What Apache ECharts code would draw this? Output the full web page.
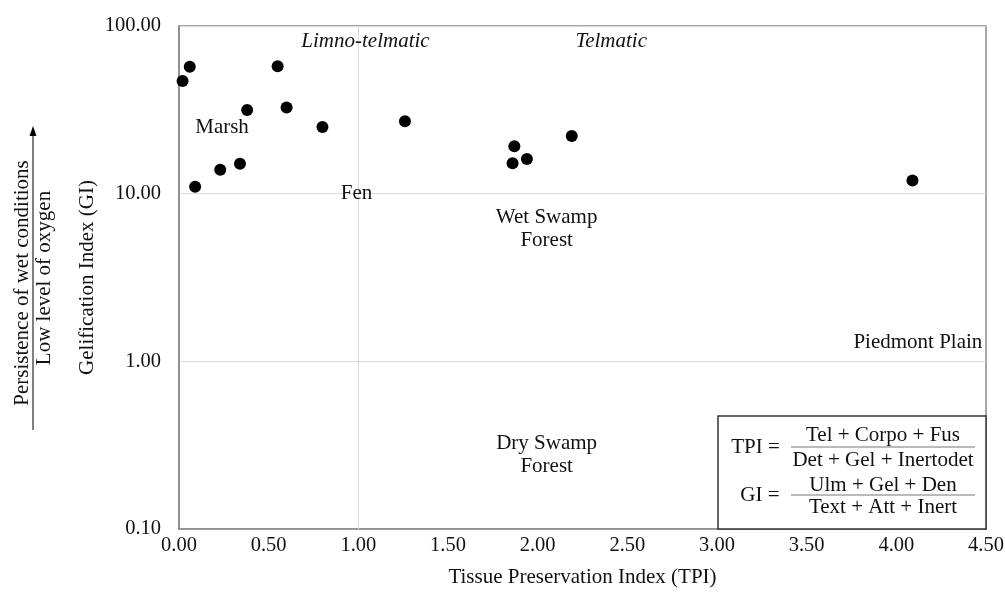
<!DOCTYPE html>
<html>
<head>
<meta charset="utf-8">
<script src="https://cdn.jsdelivr.net/npm/echarts@6/dist/echarts.min.js"></script>
<style>
  html, body { margin: 0; padding: 0; background: #fff; }
  #chart { width: 1005px; height: 592px; }
</style>
</head>
<body>
<div id="chart"></div>
<script>
// Tissue Preservation Index (TPI) vs Gelification Index (GI) per sample
const tpiValues = [0.02, 0.06, 0.55, 0.38, 0.60, 0.80, 1.26, 0.23, 0.34, 0.09, 2.19, 1.87, 1.94, 1.86, 4.09];
const giValues  = [47.0, 57.2, 57.6, 31.6, 32.6, 25.0, 27.0, 13.9, 15.1, 11.0, 22.1, 19.2, 16.1, 15.2, 12.0];

// Axis ticks
const xTicks = [0, 0.5, 1, 1.5, 2, 2.5, 3, 3.5, 4, 4.5];
const yTicks = [0.1, 1, 10, 100];

// Facies field names, anchored in data space (TPI, GI)
const zoneNames  = ['Limno-telmatic', 'Telmatic', 'Marsh', 'Fen', 'Wet Swamp\nForest', 'Dry Swamp\nForest', 'Piedmont Plain'];
const zoneTpi    = [1.04, 2.41, 0.24, 0.99, 2.05, 2.05, 4.12];
const zoneGi     = [81.4, 81.4, 24.7, 10.0, 6.16, 0.277, 1.29];
const zoneItalic = [true, true, false, false, false, false, false];

const FONT = '"Liberation Serif", "DejaVu Serif", serif';
const TXT = '#111';
const FS = 21;

const chart = echarts.init(document.getElementById('chart'), null, { renderer: 'canvas' });

const points = tpiValues.map((t, i) => [t, giValues[i]]);
const zones = zoneNames.map((n, i) => ({
  value: [zoneTpi[i], zoneGi[i]],
  label: { formatter: n, fontStyle: zoneItalic[i] ? 'italic' : 'normal' }
}));

chart.setOption({
  animation: false,
  backgroundColor: '#fff',
  textStyle: { fontFamily: FONT },
  grid: {
    left: 179, right: 19, top: 26, bottom: 63,
    containLabel: false, outerBoundsMode: 'none',
    show: true, borderColor: '#8a8a8a', borderWidth: 1.5
  },
  xAxis: {
    type: 'value',
    min: xTicks[0], max: xTicks[xTicks.length - 1], interval: 0.5,
    name: 'Tissue Preservation Index (TPI)',
    nameLocation: 'middle', nameGap: 38, nameMoveOverlap: false,
    nameTextStyle: { fontFamily: FONT, fontSize: FS, color: TXT },
    axisLine: { show: true, lineStyle: { color: '#8a8a8a', width: 1.5 } },
    axisTick: { show: false },
    splitLine: { show: false },
    axisLabel: {
      fontFamily: FONT, fontSize: 20.5, color: TXT, margin: 6,
      formatter: v => v.toFixed(2)
    }
  },
  yAxis: {
    type: 'log', logBase: 10,
    min: yTicks[0], max: yTicks[yTicks.length - 1],
    name: 'Gelification Index (GI)',
    nameLocation: 'middle', nameGap: 81, nameMoveOverlap: false,
    nameTextStyle: { fontFamily: FONT, fontSize: FS, color: TXT },
    axisLine: { show: true, lineStyle: { color: '#8a8a8a', width: 1.5 } },
    axisTick: { show: false },
    splitLine: { show: true, lineStyle: { color: '#d9d9d9', width: 1 } },
    axisLabel: {
      fontFamily: FONT, fontSize: 20.5, color: TXT, margin: 18,
      formatter: v => v.toFixed(2)
    }
  },
  series: [
    {
      type: 'scatter',
      data: points,
      symbol: 'circle',
      symbolSize: 12,
      itemStyle: { color: '#000', opacity: 1 },
      z: 5,
      markLine: {
        silent: true,
        symbol: ['none', 'none'],
        label: { show: false },
        lineStyle: { color: '#d9d9d9', width: 1, type: 'solid' },
        data: [{ xAxis: 1 }],
        z: 1
      }
    },
    {
      type: 'scatter',
      data: zones,
      symbolSize: 0,
      silent: true,
      z: 4,
      itemStyle: { opacity: 1 },
      label: {
        show: true, position: 'inside', opacity: 1,
        fontFamily: FONT, fontSize: FS, color: TXT,
        lineHeight: 23, align: 'center', verticalAlign: 'middle'
      }
    }
  ],
  graphic: [
    // Side annotation with upward arrow
    {
      type: 'text', x: 22, y: 283, rotation: Math.PI / 2,
      style: { text: 'Persistence of wet conditions', font: FS + 'px ' + FONT, fill: TXT, align: 'center', verticalAlign: 'middle' }
    },
    {
      type: 'text', x: 44, y: 278, rotation: Math.PI / 2,
      style: { text: 'Low level of oxygen', font: FS + 'px ' + FONT, fill: TXT, align: 'center', verticalAlign: 'middle' }
    },
    {
      type: 'line', shape: { x1: 33, y1: 430, x2: 33, y2: 134 },
      style: { stroke: '#000', lineWidth: 1 }
    },
    {
      type: 'polygon', shape: { points: [[33, 126], [29.5, 136], [36.5, 136]] },
      style: { fill: '#000' }
    },
    // Index definitions box
    {
      type: 'group', x: 718, y: 416,
      children: [
        { type: 'rect', shape: { x: 0, y: 0, width: 268, height: 113 }, style: { fill: '#fff', stroke: '#333', lineWidth: 1.5 }, z: 10 },
        { type: 'text', x: 37.5, y: 31, z: 11, style: { text: 'TPI =', font: FS + 'px ' + FONT, fill: TXT, align: 'center', verticalAlign: 'middle' } },
        { type: 'text', x: 165, y: 19, z: 11, style: { text: 'Tel + Corpo + Fus', font: FS + 'px ' + FONT, fill: TXT, align: 'center', verticalAlign: 'middle' } },
        { type: 'line', z: 11, shape: { x1: 73, y1: 31, x2: 257, y2: 31 }, style: { stroke: '#777', lineWidth: 1.2 } },
        { type: 'text', x: 165, y: 44, z: 11, style: { text: 'Det + Gel + Inertodet', font: FS + 'px ' + FONT, fill: TXT, align: 'center', verticalAlign: 'middle' } },
        { type: 'text', x: 42, y: 79, z: 11, style: { text: 'GI =', font: FS + 'px ' + FONT, fill: TXT, align: 'center', verticalAlign: 'middle' } },
        { type: 'text', x: 165, y: 69, z: 11, style: { text: 'Ulm + Gel + Den', font: FS + 'px ' + FONT, fill: TXT, align: 'center', verticalAlign: 'middle' } },
        { type: 'line', z: 11, shape: { x1: 73, y1: 79, x2: 257, y2: 79 }, style: { stroke: '#777', lineWidth: 1.2 } },
        { type: 'text', x: 165, y: 91, z: 11, style: { text: 'Text + Att + Inert', font: FS + 'px ' + FONT, fill: TXT, align: 'center', verticalAlign: 'middle' } }
      ]
    }
  ]
});
</script>
</body>
</html>
